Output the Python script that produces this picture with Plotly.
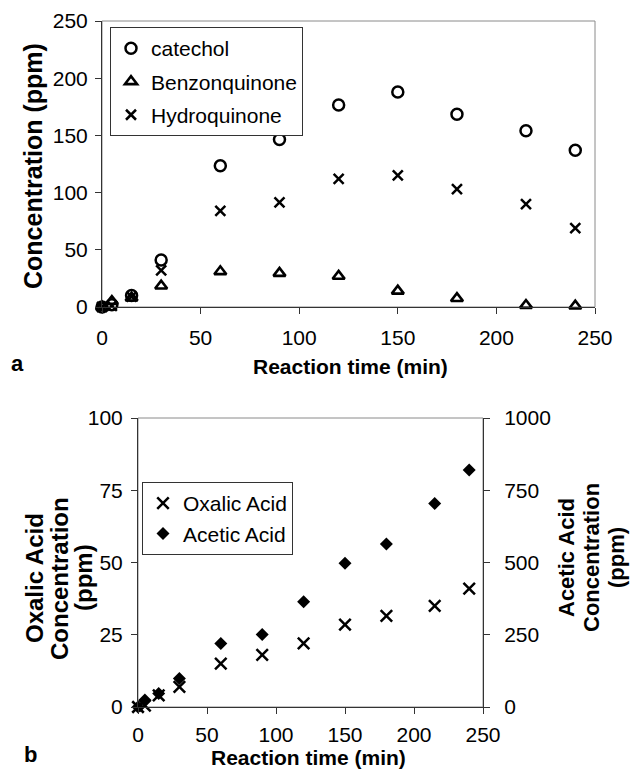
import plotly.graph_objects as go

W, H = 631, 771

# Reaction times (min) shared by both panels
time_min = [0, 5, 15, 30, 60, 90, 120, 150, 180, 215, 240]

# Panel a: aromatic intermediates (ppm)
catechol = [0, 2, 10, 41, 123.5, 146.5, 176.5, 188, 168.5, 154, 137]
benzonquinone = [0, 5, 8, 18.5, 31, 29.5, 27, 14, 7.5, 1.5, 1]
hydroquinone = [0, 1, 9, 32, 84, 91.5, 112, 115, 103, 90, 69]

# Panel b: carboxylic acids (ppm)
oxalic_acid = [0, 0.5, 4, 7, 15, 18, 22, 28.5, 31.5, 35, 41]
acetic_acid = [0, 24, 47, 99, 220, 251, 364, 497, 564, 704, 820]

time_ticks = [0, 50, 100, 150, 200, 250]
conc_ticks_a = [0, 50, 100, 150, 200, 250]
oxalic_ticks = [0, 25, 50, 75, 100]
acetic_ticks = [0, 250, 500, 750, 1000]

FONT = "Liberation Sans, Arial, sans-serif"
AXIS_COLOR = "#333333"


def px_x(p):
    return p / W


def px_y(p):
    return 1 - p / H


fig = go.Figure()

open_style = dict(color="black", width=2.5)

fig.add_trace(go.Scatter(
    x=time_min, y=catechol, mode="markers", name="catechol",
    xaxis="x", yaxis="y", cliponaxis=False, legend="legend", legendgroup="c",
    marker=dict(symbol="circle-open", size=11, color="black", line=open_style),
))
fig.add_trace(go.Scatter(
    x=time_min, y=benzonquinone, mode="markers", name="Benzonquinone",
    xaxis="x", yaxis="y", cliponaxis=False, legend="legend", legendgroup="b",
    marker=dict(symbol="triangle-up-open", size=10.5, color="black",
                line=dict(color="black", width=2.6)),
))
fig.add_trace(go.Scatter(
    x=time_min, y=hydroquinone, mode="markers", name="Hydroquinone",
    xaxis="x", yaxis="y", cliponaxis=False, legend="legend", legendgroup="h",
    marker=dict(symbol="x-thin-open", size=10, color="black", line=open_style),
))

fig.add_trace(go.Scatter(
    x=time_min, y=oxalic_acid, mode="markers", name="Oxalic Acid",
    xaxis="x2", yaxis="y2", cliponaxis=False, legend="legend2",
    marker=dict(symbol="x-thin-open", size=11.5, color="black", line=open_style),
))
fig.add_trace(go.Scatter(
    x=time_min, y=acetic_acid, mode="markers", name="Acetic Acid",
    xaxis="x2", yaxis="y3", cliponaxis=False, legend="legend2",
    marker=dict(symbol="diamond", size=10, color="black", line=dict(width=0)),
))

tick_font = dict(family=FONT, size=21, color="black")
axis_common = dict(
    showgrid=False, zeroline=False, showline=True, linecolor=AXIS_COLOR,
    linewidth=1, ticks="outside", ticklen=6, tickcolor=AXIS_COLOR,
    tickwidth=1, tickfont=tick_font, automargin=False, tickmode="array",
)

top_x_dom = [px_x(102), px_x(595)]
top_y_dom = [px_y(307), px_y(21)]
bot_x_dom = [px_x(138), px_x(483)]
bot_y_dom = [px_y(707), px_y(418)]

fig.update_layout(
    width=W, height=H,
    margin=dict(l=0, r=0, t=0, b=0, pad=0),
    paper_bgcolor="white", plot_bgcolor="white",
    font=dict(family=FONT, color="black"),
    showlegend=True,
    xaxis=dict(axis_common, domain=top_x_dom, range=[0, 250], anchor="y",
               tickvals=time_ticks, ticklabelstandoff=6),
    yaxis=dict(axis_common, domain=top_y_dom, range=[0, 250], anchor="x",
               tickvals=conc_ticks_a, ticklabelstandoff=3),
    xaxis2=dict(axis_common, domain=bot_x_dom, range=[0, 250], anchor="y2",
                tickvals=time_ticks, ticklabelstandoff=3),
    yaxis2=dict(axis_common, domain=bot_y_dom, range=[0, 100], anchor="x2",
                tickvals=oxalic_ticks, ticklabelstandoff=4),
    yaxis3=dict(axis_common, domain=bot_y_dom, range=[0, 1000], anchor="x2",
                overlaying="y2", side="right", tickvals=acetic_ticks,
                ticklabelstandoff=10),
    legend=dict(
        x=px_x(110), y=px_y(27), xanchor="left", yanchor="top",
        bgcolor="white", bordercolor=AXIS_COLOR, borderwidth=1,
        font=dict(family=FONT, size=21, color="black"),
        traceorder="grouped", tracegroupgap=3,
    ),
    legend2=dict(
        x=px_x(142), y=px_y(482), xanchor="left", yanchor="top",
        bgcolor="white", bordercolor=AXIS_COLOR, borderwidth=1,
        font=dict(family=FONT, size=21, color="black"),
        traceorder="normal", tracegroupgap=0,
    ),
)

# Plot frames (light top/right borders)
for xd, yd in ((top_x_dom, top_y_dom), (bot_x_dom, bot_y_dom)):
    fig.add_shape(type="rect", xref="paper", yref="paper",
                  x0=xd[0], x1=xd[1], y0=yd[0], y1=yd[1],
                  line=dict(color="#8a8a8a", width=1), layer="below")

bold = dict(family=FONT, color="black")


def label(text, x, y, size, angle=0):
    fig.add_annotation(
        text=f"<b>{text}</b>", x=px_x(x), y=px_y(y), xref="paper", yref="paper",
        xanchor="center", yanchor="middle", showarrow=False, textangle=angle,
        font=dict(bold, size=size),
    )


# Panel letters
label("a", 17, 363, 22)
label("b", 30, 754, 22)

# Axis titles
label("Reaction time (min)", 350, 366, 21)
label("Reaction time (min)", 308, 757, 21)
label("Concentration (ppm)", 33, 166, 25, -90)

label("Oxalic Acid", 34, 578, 24, -90)
label("Concentration", 59, 578, 24, -90)
label("(ppm)", 83, 578, 24, -90)

label("Acetic Acid", 566, 558, 22, -90)
label("Concentration", 591, 558, 22, -90)
label("(ppm)", 616, 558, 22, -90)

fig.write_html("out.html")
